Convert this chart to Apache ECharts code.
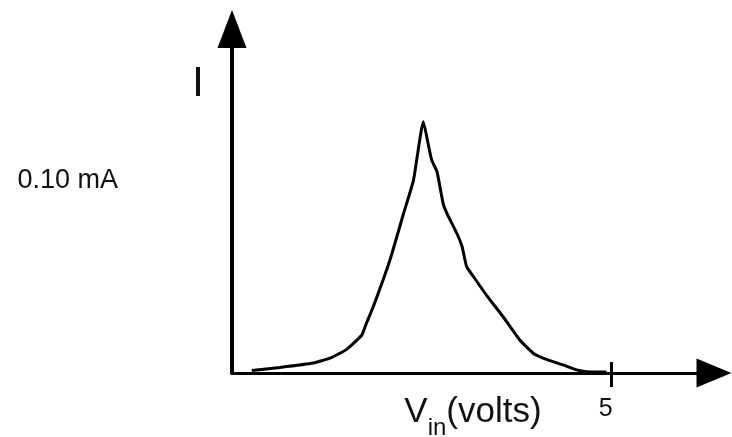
<!DOCTYPE html>
<html>
<head>
<meta charset="utf-8">
<title>Current vs input voltage</title>
<script src="https://cdn.jsdelivr.net/npm/echarts@6/dist/echarts.min.js"></script>
<style>
  html, body { margin: 0; padding: 0; background: #fff; }
  #chart { width: 732px; height: 437px; }
</style>
</head>
<body>
<div id="chart"></div>
<script>
// Input voltage (V) along the sweep
const vin = [0.26, 0.63, 1.07, 1.29, 1.51, 1.71, 1.77, 1.86, 2.08, 2.26, 2.39, 2.52,
             2.59, 2.63, 2.70, 2.78, 2.83, 2.96, 3.03, 3.09, 3.18, 3.35, 3.57, 3.79,
             3.97, 4.14, 4.36, 4.54, 4.67, 4.93];
// Measured current (mA) at each input voltage
const current = [0.0013, 0.0029, 0.0052, 0.0077, 0.0123, 0.0198, 0.0259, 0.0345, 0.0589, 0.0832, 0.1005, 0.1309,
                 0.1179, 0.1109, 0.1048, 0.0884, 0.0832, 0.0728, 0.0658, 0.0554, 0.0502, 0.0406, 0.0293, 0.0172,
                 0.0102, 0.0071, 0.0042, 0.0016, 0.0007, 0.0005];
// Tick values shown on each axis
const xTicks = [5];
const yTicks = [0.10];
// Axis extents (the arrows sit at the far ends)
const xMax = 6.347;
const yMax = 0.1792;

const points = vin.map((v, i) => [v, current[i]]);

const chart = echarts.init(document.getElementById('chart'), null, { renderer: 'canvas' });
const ink = '#000';
const textInk = '#111';
const font = 'Liberation Sans, Arial, Helvetica, sans-serif';

chart.setOption({
  animation: false,
  backgroundColor: '#fff',
  grid: { left: 232, right: 18, top: 29, bottom: 64, containLabel: false, outerBoundsMode: 'none' },
  graphic: [{
    type: 'text',
    x: 198,
    y: 84,
    style: {
      text: 'I',
      font: '43px ' + font,
      fill: textInk,
      align: 'center',
      verticalAlign: 'middle'
    }
  }],
  xAxis: [{
    type: 'value',
    position: 'bottom',
    min: 0,
    max: xMax,
    splitLine: { show: false },
    axisLine: {
      show: true,
      onZero: false,
      lineStyle: { color: ink, width: 3 },
      symbol: ['none', 'triangle'],
      symbolSize: [29, 35]
    },
    axisTick: {
      show: true,
      customValues: xTicks,
      length: 14,
      lineStyle: { color: ink, width: 3 }
    },
    axisLabel: {
      show: true,
      customValues: xTicks,
      formatter: v => String(v),
      margin: 24,
      fontSize: 25,
      fontFamily: font,
      color: textInk,
      padding: [0, 12, 0, 0]
    },
    name: '{v|V}{s|in}{v|(volts)}',
    nameLocation: 'middle',
    nameGap: 11.5,
    nameMoveOverlap: false,
    nameTextStyle: {
      rich: {
        v: { fontSize: 35, fontFamily: font, color: textInk, lineHeight: 56 },
        s: { fontSize: 24, fontFamily: font, color: textInk, lineHeight: 7, verticalAlign: 'bottom' }
      }
    }
  }, {
    // companion axis that draws the upper half of the tick at 5 V
    type: 'value',
    position: 'bottom',
    min: 0,
    max: xMax,
    splitLine: { show: false },
    axisLine: { show: false, onZero: false },
    axisTick: {
      show: true,
      inside: true,
      customValues: xTicks,
      length: 11,
      lineStyle: { color: ink, width: 3 }
    },
    axisLabel: { show: false }
  }],
  yAxis: {
    type: 'value',
    min: 0,
    max: yMax,
    splitLine: { show: false },
    axisLine: {
      show: true,
      onZero: false,
      lineStyle: { color: ink, width: 4 },
      symbol: ['none', 'triangle'],
      symbolSize: [29, 38]
    },
    axisTick: { show: false },
    axisLabel: {
      show: true,
      customValues: yTicks,
      formatter: v => v.toFixed(2) + ' mA',
      margin: 114,
      fontSize: 27,
      fontFamily: font,
      color: textInk
    }
  },
  series: [{
    type: 'line',
    xAxisIndex: 0,
    data: points,
    symbol: 'none',
    smooth: 0.15,
    lineStyle: { color: ink, width: 3 },
    clip: false
  }]
});
</script>
</body>
</html>
